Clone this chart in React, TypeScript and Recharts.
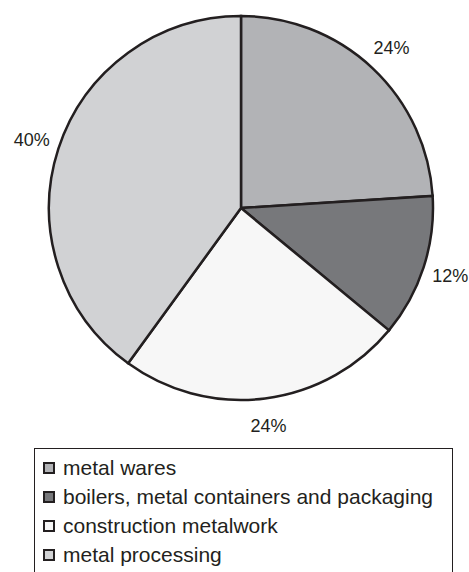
import { PieChart, Pie, Cell, Legend } from "recharts";

const categories = [
  "metal wares",
  "boilers, metal containers and packaging",
  "construction metalwork",
  "metal processing",
];
const shares = [24, 12, 24, 40];
const colors = ["#b2b3b6", "#77787b", "#f7f7f7", "#d1d2d4"];

const data = categories.map((name, i) => ({ name, value: shares[i] }));

const RAD = Math.PI / 180;
const INK = "#231f20";

function renderLabel(props: any) {
  const { cx, cy, midAngle, index } = props;
  const r = 220;
  const x = cx + r * Math.cos(-midAngle * RAD);
  const y = cy + r * Math.sin(-midAngle * RAD);
  return (
    <text
      x={x}
      y={y}
      fill={INK}
      fontSize={18}
      fontFamily="'Liberation Sans', Arial, sans-serif"
      textAnchor="middle"
      dominantBaseline="central"
    >
      {shares[index]}%
    </text>
  );
}

function LegendBox() {
  return (
    <div
      style={{
        boxSizing: "border-box",
        border: `1.5px solid ${INK}`,
        width: "100%",
        height: "100%",
        paddingTop: 4,
        paddingLeft: 8,
        fontFamily: "'Liberation Sans', Arial, sans-serif",
        fontSize: 21,
        color: INK,
      }}
    >
      {categories.map((c, i) => (
        <div key={c} style={{ display: "flex", alignItems: "center", height: 29 }}>
          <span
            style={{
              boxSizing: "border-box",
              width: 12,
              height: 12,
              border: `2px solid ${INK}`,
              background: colors[i],
              marginRight: 8,
              flexShrink: 0,
            }}
          />
          <span style={{ whiteSpace: "nowrap" }}>{c}</span>
        </div>
      ))}
    </div>
  );
}

export default function App() {
  return (
    <div style={{ position: "absolute", left: 0, top: 0, background: "#fff" }}>
      <PieChart width={469} height={572} margin={{ top: 0, right: 0, bottom: 0, left: 0 }}>
        <Pie
          data={data}
          dataKey="value"
          nameKey="name"
          cx={241}
          cy={208}
          outerRadius={192}
          startAngle={90}
          endAngle={-270}
          stroke={INK}
          strokeWidth={2.5}
          label={renderLabel}
          labelLine={false}
          isAnimationActive={false}
        >
          {data.map((d, i) => (
            <Cell key={d.name} fill={colors[i]} />
          ))}
        </Pie>
        <Legend
          verticalAlign="bottom"
          content={() => <LegendBox />}
          wrapperStyle={{ left: 34, top: 448, width: 419, height: 140, bottom: "auto" }}
        />
      </PieChart>
    </div>
  );
}
